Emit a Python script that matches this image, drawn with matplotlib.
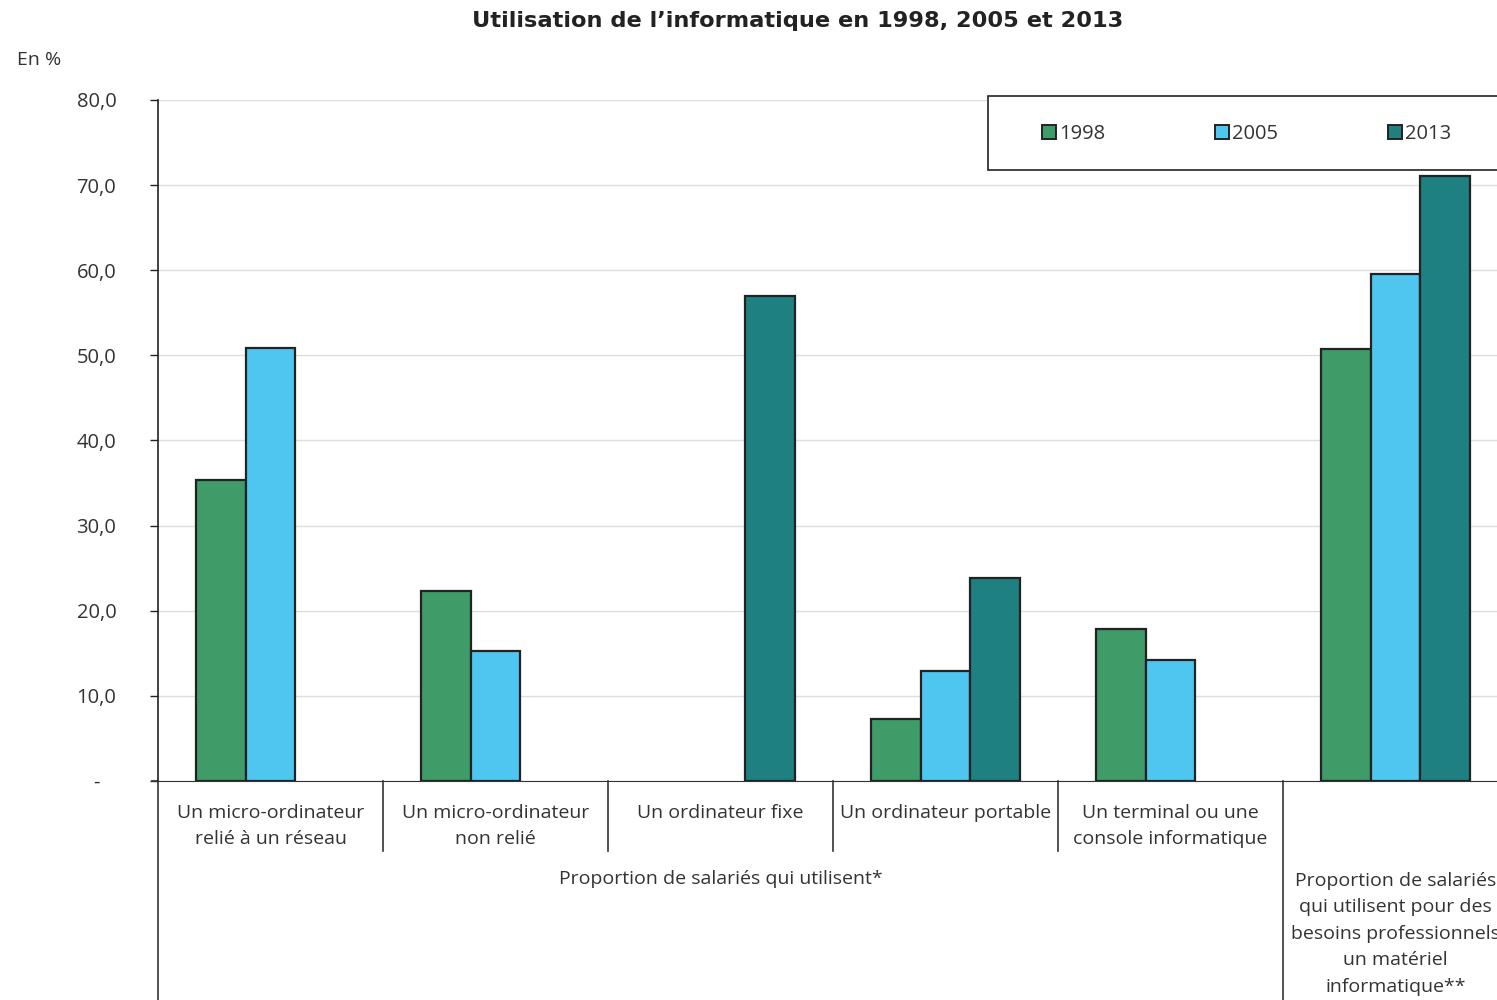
import matplotlib

matplotlib.use("Agg")

import matplotlib.pyplot as plt
import matplotlib.transforms as mtransforms
from matplotlib.patches import Patch, Rectangle
import numpy as np

plt.rcParams["font.family"] = ["Open Sans", "DejaVu Sans"]

categories = [
    "Un micro-ordinateur\nrelié à un réseau",
    "Un micro-ordinateur\nnon relié",
    "Un ordinateur fixe",
    "Un ordinateur portable",
    "Un terminal ou une\nconsole informatique",
    "",
]
years = ["1998", "2005", "2013"]
v1998 = [35.4, 22.3, np.nan, 7.3, 17.9, 50.8]
v2005 = [50.9, 15.3, np.nan, 12.9, 14.2, 59.6]
v2013 = [np.nan, np.nan, 57.0, 23.9, np.nan, 71.1]
colors = ["#3f9b68", "#4ec6f0", "#1e8080"]
group_left = "Proportion de salariés qui utilisent*"
group_right = "Proportion de salariés\nqui utilisent pour des\nbesoins professionnels\nun matériel\ninformatique**"
yticks = [0, 10, 20, 30, 40, 50, 60, 70, 80]

fig = plt.figure(figsize=(14.97, 10), dpi=100)
ax = fig.add_axes([158 / 1497, 219 / 1000, 1350 / 1497, 681 / 1000])

x = np.arange(len(categories))
width = 0.222
for i, (vals, col) in enumerate(zip([v1998, v2005, v2013], colors)):
    ax.bar(x + (i - 1) * width, vals, width=width, color=col, edgecolor="#222222",
           linewidth=1.6, zorder=3)

ax.set_xlim(-0.5, len(categories) - 0.5)
ax.set_ylim(0, 80)
ax.set_yticks(yticks)
ax.set_yticklabels(["-   "] + [f"{t:.1f}".replace(".", ",") for t in yticks[1:]],
                   fontsize=14.5, color="#333333")
ax.tick_params(axis="y", length=6, width=1, color="#222222", pad=24)
ax.set_xticks([])
ax.grid(axis="y", color="#dddddd", linewidth=1, zorder=0)
for s in ["top", "right"]:
    ax.spines[s].set_visible(False)
ax.spines["left"].set_color("#222222")
ax.spines["bottom"].set_color("#333333")
ax.spines["left"].set_linewidth(1.2)

# category separators below the axis
trans = mtransforms.blended_transform_factory(ax.transData, ax.transAxes)
for b in [0.5, 1.5, 2.5, 3.5]:
    ax.plot([b, b], [0, -70 / 681], transform=trans, color="#333333", lw=1.2, clip_on=False)
for b in [-0.5, 4.5]:
    ax.plot([b, b], [0, -225 / 681], transform=trans, color="#333333", lw=1.2, clip_on=False)
ax.plot([-0.527, -0.5], [0, 0], transform=trans, color="#333333", lw=1.2, clip_on=False)

for xi, lab in zip(x, categories):
    ax.text(xi, -23 / 681, lab, transform=trans, ha="center", va="top",
            fontsize=14, color="#333333", linespacing=1.6)
ax.text(2, -98 / 681, group_left, transform=trans, ha="center", va="center",
        fontsize=14, color="#333333")
ax.text(5, -91 / 681, group_right, transform=trans, ha="center", va="top",
        fontsize=14, color="#333333", linespacing=1.6)

fig.text(798 / 1497, 1 - 21 / 1000, "Utilisation de l\u2019informatique en 1998, 2005 et 2013",
         ha="center", va="center", fontsize=16.2, fontweight="bold",
         family="DejaVu Sans", color="#222222")
fig.text(17 / 1497, 1 - 60 / 1000, "En %", ha="left", va="center", fontsize=14, color="#333333")

# legend: frame drawn separately so it runs past the right edge as in the reference
fig.patches.append(Rectangle((988 / 1497, 1 - 170 / 1000), 540 / 1497, 74 / 1000,
                             transform=fig.transFigure, facecolor="white",
                             edgecolor="#222222", linewidth=1.2, zorder=5))
handles = [Patch(facecolor=c, edgecolor="#222222", linewidth=1.4, label=y)
           for c, y in zip(colors, years)]
leg = fig.legend(handles=handles, loc="center left", ncol=3,
                 bbox_to_anchor=(1042 / 1497, 1 - 134 / 1000),
                 fontsize=14.5, frameon=False, handlelength=0.7,
                 handleheight=0.7, handletextpad=0.15, columnspacing=5.45,
                 borderaxespad=0, borderpad=0, labelcolor="#333333")
leg.set_zorder(6)

fig.savefig("out.png", dpi=100)
